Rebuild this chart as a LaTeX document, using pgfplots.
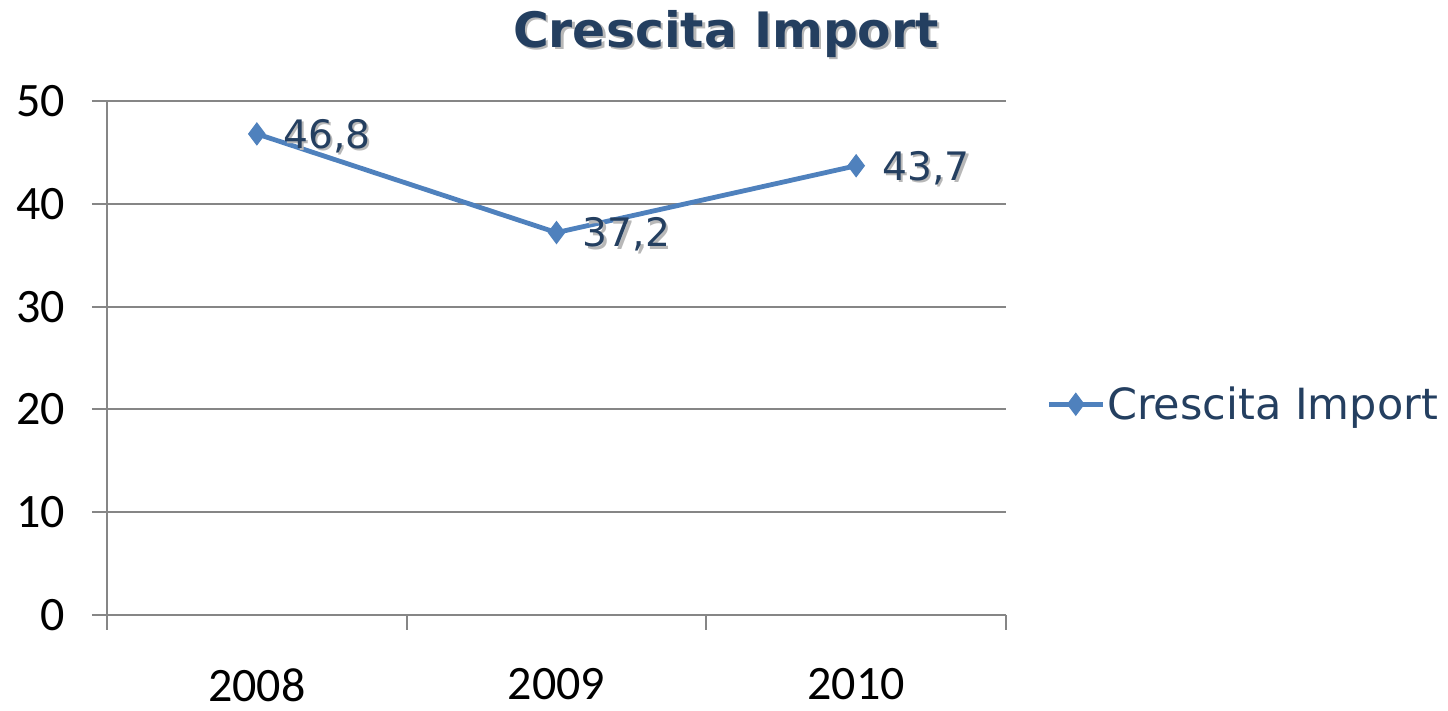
\documentclass[border=0pt]{standalone}
\usepackage{pgfplots}
\pgfplotsset{compat=1.18}
\usepackage{fontspec}
\setmainfont{Carlito}
\newfontfamily\verd{DejaVu Sans}
\definecolor{lineblue}{HTML}{4F81BD}
\definecolor{darkblue}{HTML}{243F60}
\definecolor{gridgray}{HTML}{868686}
\definecolor{shadowgray}{HTML}{B8B8B8}
\begin{document}
\begin{tikzpicture}
\path[use as bounding box] (-53.5pt,-48pt) rectangle (670.5pt,307.5pt);
\begin{axis}[
  at={(0pt,0pt)}, anchor=south west,
  scale only axis,
  width=449.5pt, height=257pt,
  xmin=-0.5, xmax=2.5,
  ymin=0, ymax=50,
  axis x line*=bottom, axis y line*=left,
  axis line style={gridgray, line width=1pt},
  xtick={0,1,2},
  xticklabels={2008,2009,2010},
  minor xtick={-0.5,0.5,1.5,2.5},
  ytick={0,10,20,30,40,50},
  ymajorgrids,
  major grid style={gridgray, line width=1pt},
  tick align=outside,
  major x tick style={draw=none},
  minor x tick style={gridgray, line width=1pt},
  minor tick length=7.5pt,
  major y tick style={gridgray, line width=1pt},
  major tick length=7.5pt,
  ticklabel style={font=\fontsize{24}{28}\selectfont, text=black},
  /pgf/number format/assume math mode=true,
  xticklabel style={inner sep=0pt, text depth=0pt, yshift=-19pt},
  yticklabel style={xshift=-10pt},
  clip=false,
  legend style={at={(1.0445,0.41)}, anchor=west, draw=none, fill=none,
    font=\verd\fontsize{21.5}{26}\selectfont, text=darkblue,
    inner sep=0pt, nodes={inner xsep=1pt}},
  legend image code/.code={\draw[mark repeat=2,mark phase=2,#1] plot coordinates {(0pt,0pt) (13.5pt,0pt) (27pt,0pt)};},
  legend cell align=left,
]
% shadow of data labels
\addplot[draw=none, mark=none, forget plot,
  nodes near coords,
  every node near coord/.append style={anchor=west, inner sep=0pt, xshift=14.2pt, yshift=-2.2pt,
    font=\verd\fontsize{19.6}{24}\selectfont, text=shadowgray},
  nodes near coords style={/pgf/number format/.cd, fixed, fixed zerofill, precision=1, use comma, assume math mode=true},
] coordinates {(0,46.8) (1,37.2) (2,43.7)};
\addplot[color=lineblue, line width=2.4pt, mark=diamond*, mark size=5.5pt,
  mark options={fill=lineblue, line width=0.5pt},
  nodes near coords,
  every node near coord/.append style={anchor=west, inner sep=0pt, xshift=13pt, yshift=-1pt,
    font=\verd\fontsize{19.6}{24}\selectfont, text=darkblue},
  nodes near coords style={/pgf/number format/.cd, fixed, fixed zerofill, precision=1, use comma, assume math mode=true},
] coordinates {(0,46.8) (1,37.2) (2,43.7)};
\addlegendentry{Crescita Import}
\end{axis}
\node[font=\verd\bfseries\fontsize{24.4}{30}\selectfont, text=shadowgray] at (310.7pt,289.3pt) {Crescita Import};
\node[font=\verd\bfseries\fontsize{24.4}{30}\selectfont, text=darkblue] at (309.5pt,290.5pt) {Crescita Import};
\end{tikzpicture}
\end{document}
